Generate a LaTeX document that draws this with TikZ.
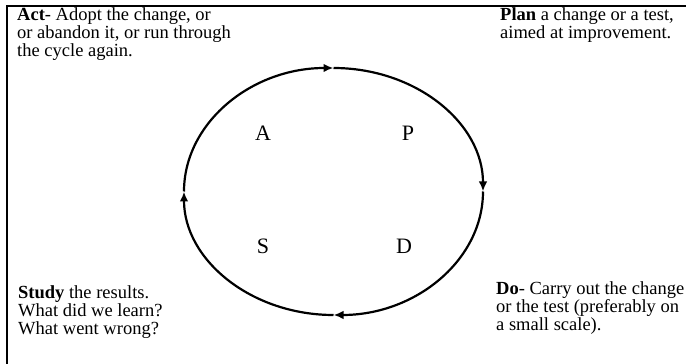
\documentclass[tikz,border=0pt]{standalone}
\usepackage{fontspec}
\setmainfont{Liberation Serif}
\usetikzlibrary{arrows.meta}
\tikzset{
  note/.style={anchor=north west,align=left,inner sep=0pt,font=\fontsize{18.5}{18}\selectfont},
  letter/.style={inner sep=0pt,font=\fontsize{22}{24}\selectfont},
  cyc/.style={-{Latex[length=10pt,width=8.5pt]},line width=2.2pt},
}
\begin{document}
\begin{tikzpicture}[x=1pt,y=1pt]
  \useasboundingbox (0,0) rectangle (686,364);
  % frame
  \draw[line width=1.4pt] (7,0) -- (7,358) -- (686,358);
  % cycle, clockwise
  \coordinate (C) at (333.5,172.5);
  \foreach \a in {180,90,0,-90}{
    \draw[cyc] (C) ++(\a:149.5 and 123.5) arc[start angle=\a,delta angle=-90,x radius=149.5,y radius=123.5];}
  \node[letter] (A) at (263,231) {A};
  \node[letter] (P) at (408,231) {P};
  \node[letter] (S) at (263,118) {S};
  \node[letter] (D) at (404,118) {D};
  % notes in the corners
  \node[note] (act) at (17,357) {\textbf{Act}- Adopt the change, or\\or abandon it, or run through\\the cycle again.};
  \node[note] (plan) at (500,357) {\textbf{Plan} a change or a test,\\aimed at improvement.};
  \node[note] (study) at (18,79) {\textbf{Study} the results.\\What did we learn?\\What went wrong?};
  \node[note] (do) at (496,83) {\textbf{Do}- Carry out the change\\or the test (preferably on\\a small scale).};
\end{tikzpicture}
\end{document}
